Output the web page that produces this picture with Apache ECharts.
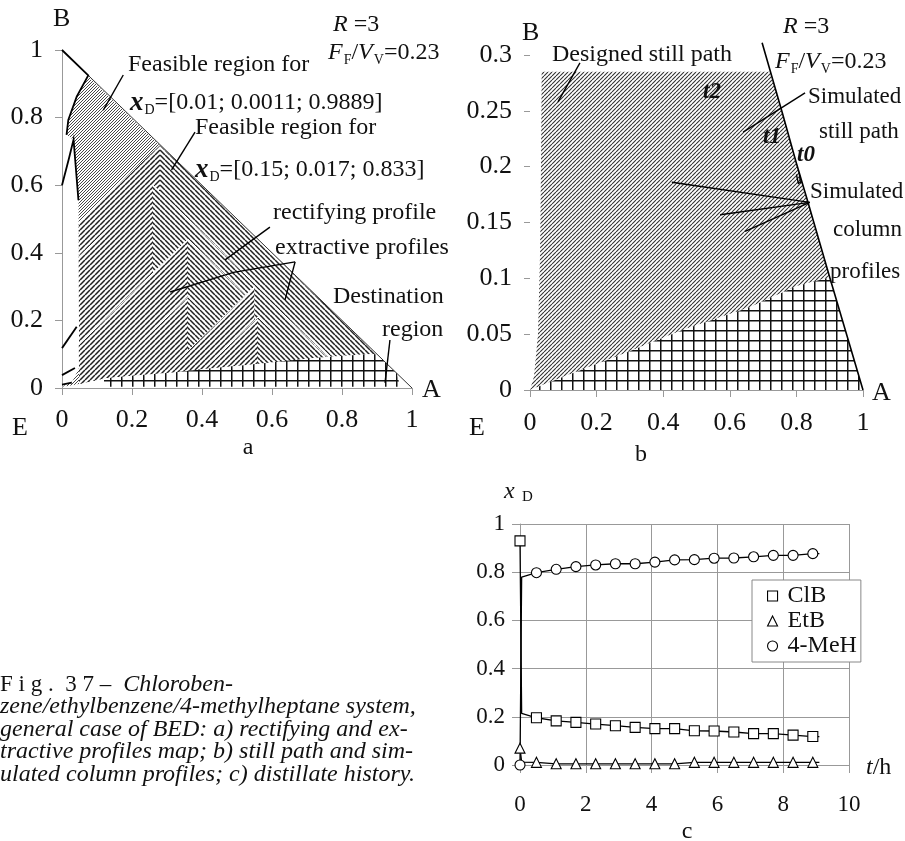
<!DOCTYPE html>
<html>
<head>
<meta charset="utf-8">
<script src="https://cdn.jsdelivr.net/npm/echarts@6/dist/echarts.min.js"></script>
<style>
  html, body { margin: 0; background: #fff; }
  #main { width: 905px; height: 841px; }
</style>
</head>
<body>
<div id="main"></div>
<script>
// ---------- panel a: profile map (x = A, y = B) ----------
const aLeftEdge = [[0.075, 0.921], [0.042, 0.862], [0.018, 0.793], [0.013, 0.749], [0.033, 0.734],
  [0.047, 0.556], [0.049, 0.30], [0.049, 0.06], [0.03, 0.02], [0.0, 0.004]];
const aBottomEdge = [[0.0, 0.004], [0.03, 0.008], [0.06, 0.015], [0.128, 0.03], [0.2, 0.036], [0.317, 0.046],
  [0.42, 0.058], [0.528, 0.068], [0.717, 0.089], [0.87, 0.10], [0.90, 0.10]];
const aChevronApex = [[0.28, 0.72], [0.26, 0.60], [0.36, 0.44], [0.36, 0.27], [0.55, 0.30], [0.56, 0.21]];
const aDestination = [[0.12, 0.028], [0.2, 0.036], [0.317, 0.046], [0.42, 0.058], [0.528, 0.068], [0.717, 0.089],
  [0.87, 0.10], [0.90, 0.10], [0.957, 0.043], [0.966, 0.004], [0.12, 0.004]];
const aHypotenuse = [[0.075, 0.925], [1, 0]];
const aProfileLines = [
  [[0, 1], [0.075, 0.925], [0.042, 0.862], [0.018, 0.793], [0.013, 0.749]],
  [[0, 0.60], [0.02, 0.68], [0.033, 0.735], [0.047, 0.556]],
  [[0, 0.118], [0.042, 0.181]],
  [[0, 0.038], [0.037, 0.059]],
  [[0, 0.01], [0.028, 0.016]]
];
const aPointers = [
  [[0.175, 0.926], [0.118, 0.822]],
  [[0.38, 0.757], [0.313, 0.645]],
  [[0.594, 0.476], [0.466, 0.379]],
  [[0.666, 0.373], [0.49, 0.342], [0.309, 0.284]],
  [[0.666, 0.373], [0.637, 0.26]],
  [[0.937, 0.142], [0.923, 0.015]]
];

// ---------- panel b: still path ----------
const bStillLine = [[0.697, 0.311], [0.757, 0.249], [0.80, 0.203], [0.835, 0.168], [0.90, 0.101], [1, 0]];
const bDesigned = [[0.035, 0.285], [0.722, 0.285], [0.757, 0.249], [0.80, 0.203], [0.835, 0.168], [0.90, 0.101],
  [0.80, 0.093], [0.66, 0.074], [0.46, 0.054], [0.26, 0.03], [0.11, 0.013], [0, 0],
  [0.012, 0.012], [0.024, 0.05], [0.03, 0.12], [0.033, 0.2]];
const bDestination = [[0, 0], [0.11, 0.013], [0.26, 0.03], [0.46, 0.054], [0.66, 0.074], [0.80, 0.093],
  [0.90, 0.101], [1, 0]];
const bPointers = [
  [[0.15, 0.293], [0.084, 0.258]],
  [[0.826, 0.266], [0.64, 0.231]],
  [[0.84, 0.168], [0.426, 0.186]],
  [[0.84, 0.168], [0.571, 0.157]],
  [[0.84, 0.168], [0.646, 0.142]]
];
const bHook = [[0.800, 0.193], [0.806, 0.185], [0.812, 0.186], [0.808, 0.195]];

// ---------- panel c: distillate history ----------
const tHours = [0, 0.05, 0.5, 1.1, 1.7, 2.3, 2.9, 3.5, 4.1, 4.7, 5.3, 5.9, 6.5, 7.1, 7.7, 8.3, 8.9, 9.1];
const xClB = [0.93, 0.214, 0.196, 0.183, 0.177, 0.170, 0.163, 0.156, 0.151, 0.151, 0.142, 0.141, 0.137, 0.130, 0.130, 0.124, 0.118, 0.118];
const xEtB = [0.07, 0.012, 0.011, 0.005, 0.005, 0.005, 0.005, 0.005, 0.005, 0.005, 0.011, 0.011, 0.011, 0.011, 0.011, 0.011, 0.011, 0.011];
const xMeH = [0.0, 0.78, 0.798, 0.812, 0.823, 0.830, 0.835, 0.835, 0.842, 0.851, 0.852, 0.858, 0.859, 0.864, 0.870, 0.870, 0.877, 0.877];

const FONT = 'Liberation Serif';
const chart = echarts.init(document.getElementById('main'));

// hatch tiles (white ground so overlapping bands do not mix)
function tile(w, h, draw) {
  const c = document.createElement('canvas');
  c.width = w; c.height = h;
  const g = c.getContext('2d');
  g.fillStyle = '#fff';
  g.fillRect(0, 0, w, h);
  draw(g);
  return { image: c, repeat: 'repeat' };
}
const slash = (s, color, lw) => tile(s, s, g => {
  g.strokeStyle = color; g.lineWidth = lw; g.beginPath();
  for (let k = -1; k <= 1; k++) { g.moveTo(k * s, s); g.lineTo(k * s + s, 0); }
  g.stroke();
});
const backslash = (s, color, lw) => tile(s, s, g => {
  g.strokeStyle = color; g.lineWidth = lw; g.beginPath();
  for (let k = -1; k <= 1; k++) { g.moveTo(k * s, 0); g.lineTo(k * s + s, s); }
  g.stroke();
});
const crossGrid = (w, h, color, lw) => tile(w, h, g => {
  g.strokeStyle = color; g.lineWidth = lw; g.beginPath();
  g.moveTo(0.75, 0); g.lineTo(0.75, h); g.moveTo(0, 0.75); g.lineTo(w, 0.75);
  g.stroke();
});

const patFine = slash(3, '#333', 0.9);
const patSlash = slash(5, '#222', 1.5);
const patBack = backslash(5, '#222', 1.5);
const patGrid = crossGrid(11, 10, '#111', 1.5);
const patB = slash(4, '#333', 1.1);

// chevron bands of panel a
function bottomAt(x) {
  const e = aBottomEdge;
  if (x <= e[0][0]) return e[0][1];
  for (let i = 1; i < e.length; i++) {
    if (x <= e[i][0]) {
      const [x0, y0] = e[i - 1], [x1, y1] = e[i];
      return y0 + (y1 - y0) * (x - x0) / (x1 - x0);
    }
  }
  return e[e.length - 1][1];
}
const X_LEFT = 0.049;
function chevron([ax, ay]) {
  let s = 0;
  while (ay - s > bottomAt(ax - s) && ax - s > X_LEFT) s += 0.002;
  const leftEnd = [ax - s, ay - s];
  const left = [[ax, ay], leftEnd];
  if (ax - s <= X_LEFT) left.push([X_LEFT, bottomAt(X_LEFT)]);
  const lx = left[left.length - 1][0];
  aBottomEdge.filter(p => p[0] > lx && p[0] < ax).forEach(p => left.push(p));
  left.push([ax, bottomAt(ax)]);
  s = 0;
  while (ay - s > bottomAt(ax + s)) s += 0.002;
  const rightEnd = [ax + s, ay - s];
  const right = [[ax, ay], rightEnd];
  aBottomEdge.filter(p => p[0] < ax + s && p[0] > ax).reverse().forEach(p => right.push(p));
  right.push([ax, bottomAt(ax)]);
  return { left, right, arms: [leftEnd, [ax, ay], rightEnd] };
}
const chevrons = aChevronApex.map(chevron);

const shapesA = [{ pts: [...aLeftEdge.slice().reverse(), ...aBottomEdge.slice().reverse()], fill: patFine }];
chevrons.forEach(c => {
  shapesA.push({ pts: c.left, fill: patSlash });
  shapesA.push({ pts: c.right, fill: patBack });
  shapesA.push({ pts: c.arms, stroke: '#fff', lw: 1 });
});
shapesA.push({ pts: aDestination, fill: patGrid });
shapesA.push({ pts: aHypotenuse, stroke: '#333', lw: 1 });
aProfileLines.forEach(l => shapesA.push({ pts: l, stroke: '#000', lw: 1.8 }));
aPointers.forEach(l => shapesA.push({ pts: l, stroke: '#000', lw: 1.4 }));

const shapesB = [
  { pts: bDesigned, fill: patB },
  { pts: bDestination, fill: patGrid },
  { pts: bStillLine, stroke: '#000', lw: 1.6 },
  { pts: bHook, stroke: '#000', lw: 1.3 }
];
bPointers.forEach(l => shapesB.push({ pts: l, stroke: '#000', lw: 1.4 }));

function shapeSeries(grid, shapes) {
  return {
    type: 'custom', xAxisIndex: grid, yAxisIndex: grid, silent: true,
    data: shapes.map(() => [0, 0]),
    renderItem: (params, api) => {
      const s = shapes[params.dataIndex];
      const pts = s.pts.map(p => api.coord(p));
      if (s.fill) {
        return { type: 'polygon', shape: { points: pts }, style: { fill: s.fill, stroke: 'none' } };
      }
      return { type: 'polyline', shape: { points: pts }, style: { fill: 'none', stroke: s.stroke, lineWidth: s.lw } };
    }
  };
}

function seriesC(name, values, symbol, size) {
  const last = tHours.length - 1;
  return {
    name, type: 'line', xAxisIndex: 2, yAxisIndex: 2, symbol, showAllSymbol: true,
    data: tHours.map((t, i) => ({ value: [t, values[i]], symbolSize: (i === 1 || i === last) ? 0 : size })),
    lineStyle: { color: '#000', width: 1.3 },
    itemStyle: { color: '#fff', borderColor: '#000', borderWidth: 1.1 },
    z: 5
  };
}

const gray = '#999';
const tickLabel = (size, margin) => ({ fontFamily: FONT, fontSize: size, color: '#111', margin });
function valueAxis(grid, min, max, interval, label, opts) {
  return Object.assign({
    type: 'value', gridIndex: grid, min, max, interval,
    axisLine: { show: true, lineStyle: { color: gray, width: 1 } },
    axisTick: { show: true, length: 7, lineStyle: { color: gray } },
    splitLine: { show: false },
    axisLabel: label
  }, opts || {});
}

const rich = {
  n: { fontFamily: FONT, fontSize: 24, color: '#111' },
  i: { fontFamily: FONT, fontSize: 24, fontStyle: 'italic', color: '#111' },
  bx: { fontFamily: FONT, fontSize: 27, fontStyle: 'italic', fontWeight: 'bold', color: '#111' },
  s: { fontFamily: FONT, fontSize: 14, color: '#111', padding: [14, 0, 0, 1] }
};
function txt(x, y, text, o) {
  return {
    type: 'text', x, y, z: 100, silent: true,
    style: Object.assign({ text, fontFamily: FONT, fontSize: 24, fill: '#111', textAlign: 'left', textVerticalAlign: 'middle', rich }, o || {})
  };
}
const capStyle = { fontSize: 24, fontStyle: 'italic' };
const tBold = { fontStyle: 'italic', fontWeight: 'bold', fontSize: 23 };

const option = {
  animation: false,
  backgroundColor: '#fff',
  grid: [
    { left: 62, top: 50, width: 350, height: 338 },
    { left: 530, top: 55, width: 333, height: 335 },
    { left: 520, top: 524, width: 329, height: 241 }
  ],
  xAxis: [
    valueAxis(0, 0, 1, 0.2, tickLabel(26, 19)),
    valueAxis(1, 0, 1, 0.2, tickLabel(26, 20)),
    valueAxis(2, 0, 10, 2, tickLabel(23, 28), { splitLine: { show: true, lineStyle: { color: gray, width: 1 } }, axisTick: { show: true, length: 8, lineStyle: { color: gray } } })
  ],
  yAxis: [
    valueAxis(0, 0, 1, 0.2, tickLabel(26, 19)),
    valueAxis(1, 0, 0.3, 0.05, tickLabel(26, 18), { axisLine: { show: false }, axisTick: { show: true, length: 6, lineStyle: { color: gray } } }),
    valueAxis(2, 0, 1, 0.2, tickLabel(23, 15), { splitLine: { show: true, lineStyle: { color: gray, width: 1 } }, axisTick: { show: true, length: 8, lineStyle: { color: gray } } })
  ],
  legend: {
    orient: 'vertical', left: 752, top: 580, selectedMode: false,
    data: [{ name: 'ClB', icon: 'rect' }, { name: 'EtB', icon: 'triangle' }, { name: '4-MeH', icon: 'circle' }],
    itemWidth: 10, itemHeight: 10, itemGap: 1,
    padding: [4, 4, 4, 15],
    borderColor: '#888', borderWidth: 1, backgroundColor: '#fff',
    itemStyle: { color: '#fff', borderColor: '#000', borderWidth: 1.1 },
    textStyle: { fontFamily: FONT, fontSize: 24, lineHeight: 24, color: '#111', padding: [0, 0, 0, 5] }
  },
  series: [
    shapeSeries(0, shapesA),
    shapeSeries(1, shapesB),
    seriesC('ClB', xClB, 'rect', 10),
    seriesC('EtB', xEtB, 'triangle', 10),
    seriesC('4-MeH', xMeH, 'circle', 10)
  ],
  graphic: [
    // panel a
    txt(53, 19, 'B', { fontSize: 26 }),
    txt(333, 25, '{i|R}{n| =3}'),
    txt(328, 53, '{i|F}{s|F}{n|/}{i|V}{s|V}{n|=0.23}'),
    txt(128, 65, 'Feasible region for'),
    txt(130, 103, '{bx|x}{s|D}{n|=[0.01; 0.0011; 0.9889]}'),
    txt(195, 128, 'Feasible region for'),
    txt(195, 170, '{bx|x}{s|D}{n|=[0.15; 0.017; 0.833]}'),
    txt(273, 213, 'rectifying profile'),
    txt(275, 248, 'extractive profiles'),
    txt(333, 297, 'Destination'),
    txt(382, 330, 'region'),
    txt(422, 390, 'A', { fontSize: 26 }),
    txt(12, 428, 'E', { fontSize: 26 }),
    txt(248, 448, 'a', { textAlign: 'center' }),
    // panel b
    txt(522, 33, 'B', { fontSize: 26 }),
    txt(783, 27, '{i|R}{n| =3}'),
    txt(775, 62, '{i|F}{s|F}{n|/}{i|V}{s|V}{n|=0.23}'),
    txt(552, 55, 'Designed still path'),
    txt(703, 92, 't2', tBold),
    txt(808, 97, 'Simulated', { fontSize: 23 }),
    txt(819, 132, 'still path', { fontSize: 23 }),
    txt(763, 137, 't1', tBold),
    txt(797, 155, 't0', tBold),
    txt(810, 192, 'Simulated', { fontSize: 23 }),
    txt(833, 230, 'column', { fontSize: 23 }),
    txt(830, 272, 'profiles', { fontSize: 23 }),
    txt(872, 393, 'A', { fontSize: 26 }),
    txt(469, 428, 'E', { fontSize: 26 }),
    txt(641, 455, 'b', { textAlign: 'center' }),
    // panel c
    txt(504, 492, 'x', { fontStyle: 'italic', fontSize: 24 }),
    txt(522, 497, 'D', { fontSize: 15 }),
    txt(866, 768, '{i|t}{n|/h}'),
    txt(687, 832, 'c', { textAlign: 'center' }),
    // caption
    txt(0, 685, '{u|F i g .  3 7 –}  {c|Chloroben-}', { rich: { u: { fontFamily: FONT, fontSize: 23, color: '#111' }, c: { fontFamily: FONT, fontSize: 24, fontStyle: 'italic', color: '#111' } } }),
    txt(0, 707, 'zene/ethylbenzene/4-methylheptane system,', capStyle),
    txt(0, 730, 'general case of BED: a) rectifying and ex-', capStyle),
    txt(0, 752, 'tractive profiles map; b) still path and sim-', capStyle),
    txt(0, 775, 'ulated column profiles; c) distillate history.', capStyle)
  ]
};

chart.setOption(option);
</script>
</body>
</html>
